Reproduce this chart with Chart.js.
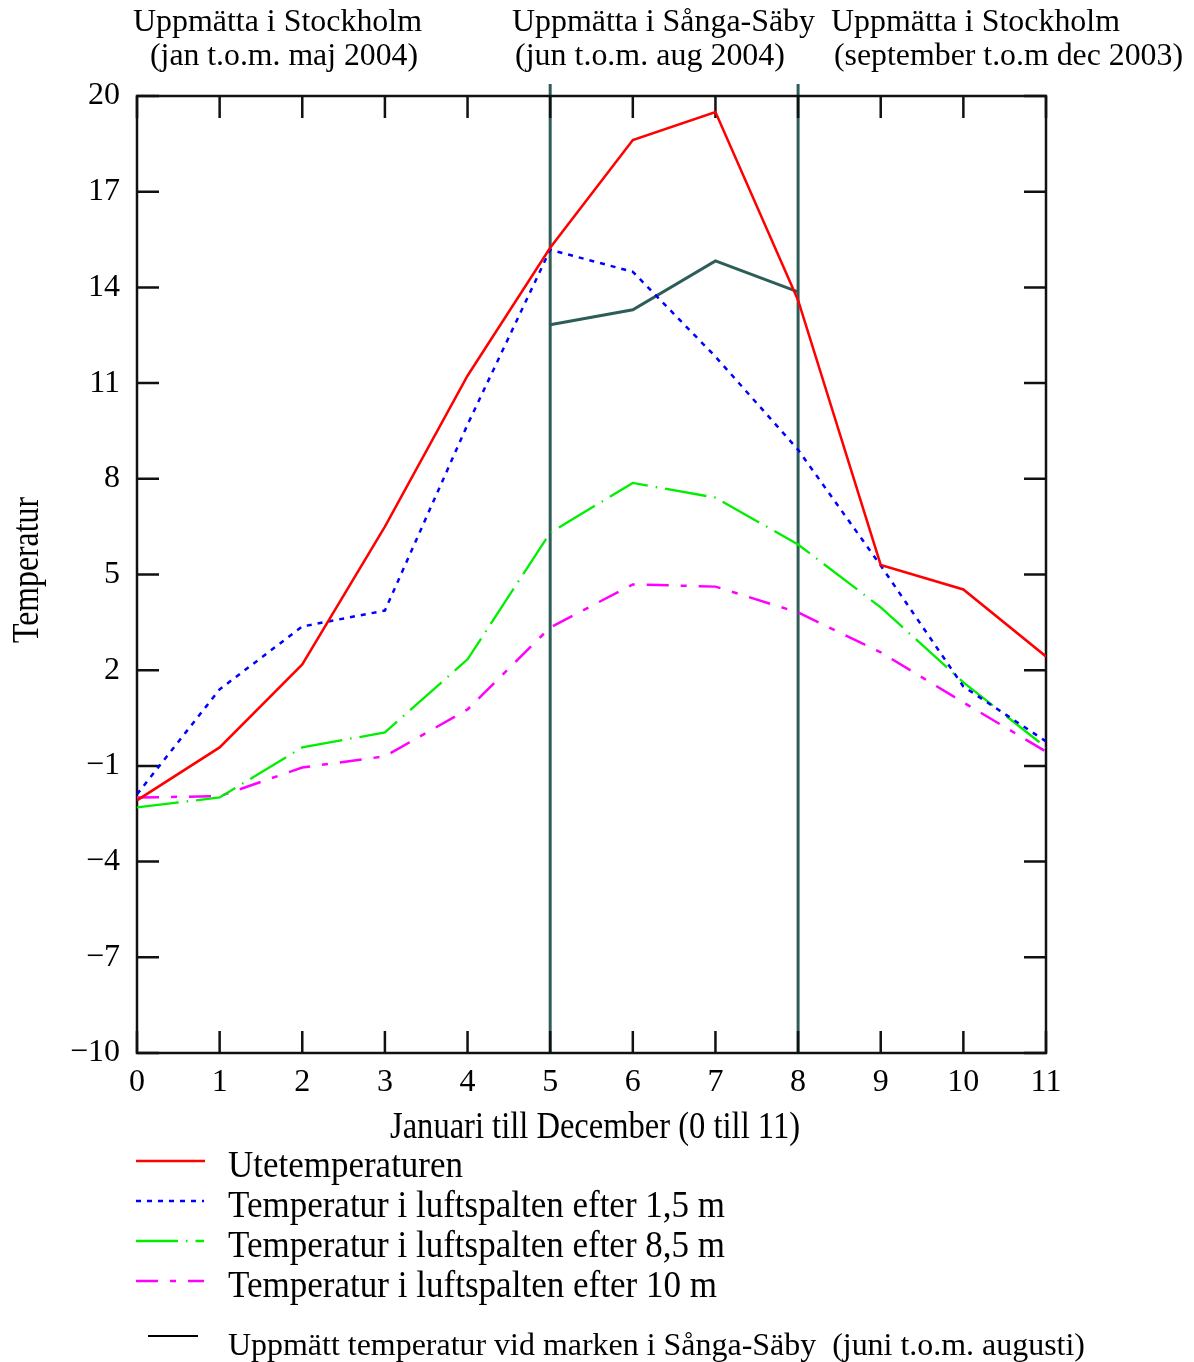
<!DOCTYPE html>
<html lang="sv">
<head>
<meta charset="utf-8">
<title>Temperatur i luftspalten</title>
<script src="https://cdn.jsdelivr.net/npm/chart.js@4.4.1/dist/chart.umd.min.js"></script>
<style>
  html, body { margin: 0; padding: 0; background: #ffffff; }
  canvas { display: block; }
</style>
</head>
<body>
<canvas id="chart" width="1194" height="1362"></canvas>
<script>
// Månader, januari till december (0 till 11)
const months = [0, 1, 2, 3, 4, 5, 6, 7, 8, 9, 10, 11];

// Utetemperaturen
const outdoor = [-2.08, -0.42, 2.18, 6.5, 11.23, 15.24, 18.62, 19.5, 13.6, 5.3, 4.53, 2.43];
// Temperatur i luftspalten efter 1,5 m
const gap15 = [-1.89, 1.4, 3.37, 3.87, 9.7, 15.18, 14.49, 11.83, 8.91, 5.28, 1.49, -0.23];
// Temperatur i luftspalten efter 8,5 m
const gap85 = [-2.3, -1.99, -0.42, 0.05, 2.34, 6.31, 7.87, 7.41, 5.94, 3.97, 1.62, -0.42];
// Temperatur i luftspalten efter 10 m
const gap10 = [-1.99, -1.95, -1.05, -0.7, 0.77, 3.34, 4.69, 4.62, 3.81, 2.56, 0.99, -0.55];

// Uppmätt temperatur vid marken i Sånga-Säby (juni t.o.m. augusti)
const groundMonths = [5, 6, 7, 8];
const ground = [12.83, 13.3, 14.83, 13.86];

// Gränser mellan mätplatserna
const dividers = [5, 8];

// Axelinställningar
const yMin = -10, yMax = 20, yStep = 3;
const xMin = 0, xMax = 11, xStep = 1;

// Rubriker ovanför diagrammet
const headerLines = [
  ["Uppmätta i Stockholm", "(jan t.o.m. maj 2004)"],
  ["Uppmätta i Sånga-Säby", "(jun t.o.m. aug 2004)"],
  ["Uppmätta i Stockholm", "(september t.o.m dec 2003)"]
];

const seriesLabels = [
  "Utetemperaturen",
  "Temperatur i luftspalten efter 1,5 m",
  "Temperatur i luftspalten efter 8,5 m",
  "Temperatur i luftspalten efter 10 m"
];
const groundLabel = "Uppmätt temperatur vid marken i Sånga-Säby  (juni t.o.m. augusti)";
const xTitle = "Januari till December (0 till 11)";
const yTitle = "Temperatur";

const TEAL = "#2e5d59";
const SERIF = '"Liberation Serif", "Times New Roman", serif';

function points(xs, ys) {
  return ys.map((v, i) => ({ x: xs[i], y: v }));
}

const datasets = [
  { label: seriesLabels[0], data: points(months, outdoor), borderColor: "#ff0000", borderWidth: 2.5, borderDash: [] },
  { label: seriesLabels[1], data: points(months, gap15), borderColor: "#0000ff", borderWidth: 2.5, borderDash: [5, 6] },
  { label: seriesLabels[2], data: points(months, gap85), borderColor: "#00ee00", borderWidth: 2.3, borderDash: [42, 8, 1.5, 8] },
  { label: seriesLabels[3], data: points(months, gap10), borderColor: "#ff00ff", borderWidth: 2.5, borderDash: [22, 12, 6, 12] },
  { label: groundLabel, data: points(groundMonths, ground), borderColor: TEAL, borderWidth: 3, borderDash: [] }
];

// Text som trycks ihop horisontellt till en given bredd
function fitText(ctx, text, x, y, size, width) {
  ctx.save();
  ctx.font = size + "px " + SERIF;
  const w = ctx.measureText(text).width;
  ctx.translate(x, y);
  ctx.scale(width / w, 1);
  ctx.textAlign = "left";
  ctx.textBaseline = "alphabetic";
  ctx.fillStyle = "#000";
  ctx.fillText(text, 0, 0);
  ctx.restore();
}

// Ram, inåtriktade skalstreck och gränslinjer
const framePlugin = {
  id: "frame",
  beforeDatasetsDraw(chart) {
    const { ctx, chartArea: a, scales: { x, y } } = chart;
    ctx.save();
    // gränslinjer mellan mätplatserna
    ctx.strokeStyle = TEAL;
    ctx.lineWidth = 3;
    dividers.forEach(d => {
      const px = x.getPixelForValue(d);
      ctx.beginPath();
      ctx.moveTo(px, a.top - 12);
      ctx.lineTo(px, a.bottom);
      ctx.stroke();
    });
    // skalstreck
    ctx.strokeStyle = "#111";
    ctx.lineWidth = 2.5;
    const tick = 22;
    x.ticks.forEach(t => {
      const px = x.getPixelForValue(t.value);
      ctx.beginPath();
      ctx.moveTo(px, a.bottom); ctx.lineTo(px, a.bottom - tick);
      ctx.moveTo(px, a.top); ctx.lineTo(px, a.top + tick);
      ctx.stroke();
    });
    y.ticks.forEach(t => {
      const py = y.getPixelForValue(t.value);
      ctx.beginPath();
      ctx.moveTo(a.left, py); ctx.lineTo(a.left + tick, py);
      ctx.moveTo(a.right, py); ctx.lineTo(a.right - tick, py);
      ctx.stroke();
    });
    ctx.strokeRect(a.left, a.top, a.right - a.left, a.bottom - a.top);
    ctx.restore();
  },
  afterDraw(chart) {
    const { ctx } = chart;
    // rubriker
    const headerPos = [
      [[133, 31, 289], [150, 65, 268]],
      [[512, 31, 303], [515, 65, 270]],
      [[831, 31, 289], [834, 65, 349]]
    ];
    headerLines.forEach((pair, i) => {
      pair.forEach((txt, j) => {
        const p = headerPos[i][j];
        fitText(ctx, txt, p[0], p[1], 31, p[2]);
      });
    });
    // axeltitlar
    fitText(ctx, xTitle, 390, 1138, 37, 410);
    ctx.save();
    ctx.translate(38, 643);
    ctx.rotate(-Math.PI / 2);
    fitText(ctx, yTitle, 0, 0, 37, 146);
    ctx.restore();

    // teckenförklaring
    const ds = chart.data.datasets;
    const rows = [
      { line: [136, 205, 1161], text: [228, 1177, 235] },
      { line: [136, 204, 1201], text: [228, 1217, 497] },
      { line: [136, 204, 1241], text: [228, 1257, 497] },
      { line: [136, 204, 1281], text: [228, 1297, 489] }
    ];
    rows.forEach((r, i) => {
      const d = ds[i];
      ctx.save();
      ctx.strokeStyle = d.borderColor;
      ctx.lineWidth = d.borderWidth;
      ctx.setLineDash(d.borderDash);
      ctx.beginPath();
      ctx.moveTo(r.line[0], r.line[2]);
      ctx.lineTo(r.line[1], r.line[2]);
      ctx.stroke();
      ctx.restore();
      fitText(ctx, d.label, r.text[0], r.text[1], 37, r.text[2]);
    });
    ctx.save();
    ctx.strokeStyle = "#000";
    ctx.lineWidth = 2;
    ctx.beginPath();
    ctx.moveTo(148, 1336);
    ctx.lineTo(198, 1336);
    ctx.stroke();
    ctx.restore();
    fitText(ctx, ds[4].label, 228, 1355, 31, 857);
  }
};

const tickFont = { family: SERIF, size: 32 };
const minus = v => (v < 0 ? "\u2212" + Math.abs(v) : String(v));

new Chart(document.getElementById("chart"), {
  type: "line",
  data: { datasets },
  options: {
    responsive: false,
    animation: false,
    events: [],
    layout: { padding: { left: 0, top: 96, right: 148, bottom: 0 } },
    elements: { point: { radius: 0 }, line: { tension: 0, fill: false } },
    plugins: { legend: { display: false }, tooltip: { enabled: false } },
    scales: {
      x: {
        type: "linear", min: xMin, max: xMax,
        grid: { display: false, drawTicks: false },
        border: { display: false },
        ticks: { stepSize: xStep, color: "#000", font: tickFont, padding: 10, maxRotation: 0, callback: minus },
        afterFit(s) { s.height = 1362 - 1053; }
      },
      y: {
        min: yMin, max: yMax,
        grid: { display: false, drawTicks: false },
        border: { display: false },
        ticks: { stepSize: yStep, color: "#000", font: tickFont, padding: 17, callback: minus },
        afterFit(s) { s.width = 137; }
      }
    }
  },
  plugins: [framePlugin]
});
</script>
</body>
</html>
